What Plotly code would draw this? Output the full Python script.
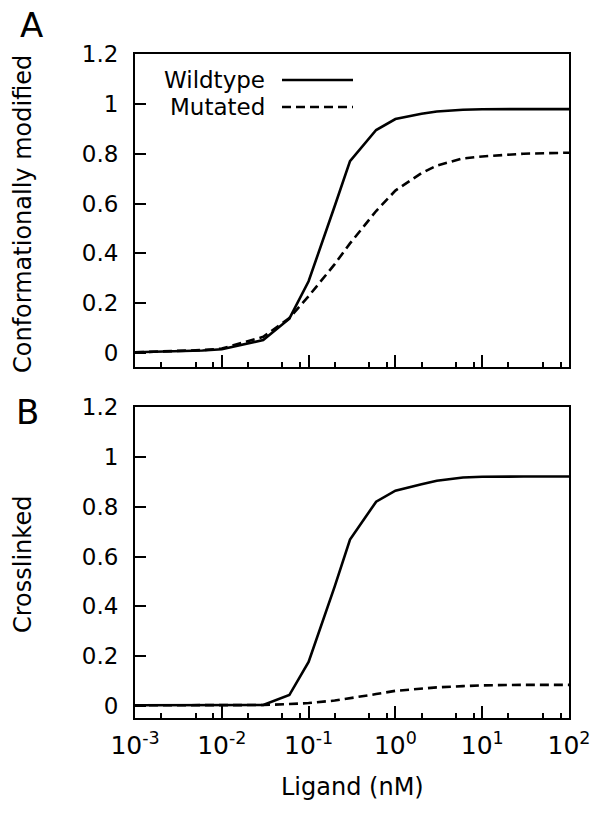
import plotly.graph_objects as go

# ---- data ----
ligand_nM = [0.001, 0.003, 0.006, 0.01, 0.03, 0.06, 0.1, 0.2, 0.3, 0.6, 1, 2, 3, 6, 10, 30, 100]
conf_wildtype = [0.003, 0.006, 0.010, 0.015, 0.052, 0.138, 0.288, 0.590, 0.770, 0.895, 0.939, 0.960, 0.969, 0.976, 0.978, 0.979, 0.979]
conf_mutated = [0.003, 0.007, 0.012, 0.018, 0.065, 0.140, 0.228, 0.357, 0.440, 0.570, 0.652, 0.722, 0.752, 0.781, 0.789, 0.800, 0.804]
cross_wildtype = [0.003, 0.003, 0.003, 0.003, 0.004, 0.044, 0.177, 0.480, 0.668, 0.820, 0.864, 0.890, 0.904, 0.917, 0.920, 0.921, 0.921]
cross_mutated = [0.003, 0.003, 0.003, 0.003, 0.004, 0.008, 0.012, 0.022, 0.031, 0.048, 0.061, 0.070, 0.075, 0.080, 0.083, 0.085, 0.085]

x_tickvals = [1e-3, 1e-2, 1e-1, 1e0, 1e1, 1e2]
x_ticktext = ["10<sup>-3</sup>", "10<sup>-2</sup>", "10<sup>-1</sup>", "10<sup>0</sup>", "10<sup>1</sup>", "10<sup>2</sup>"]
x_minor = [m * d for d in [1e-3, 1e-2, 1e-1, 1e0, 1e1] for m in (2, 5, 8)]
y_tickvals = [0, 0.2, 0.4, 0.6, 0.8, 1.0, 1.2]
y_ticktext = ["0", "0.2", "0.4", "0.6", "0.8", "1", "1.2"]

FONT = "DejaVu Sans"
LW = 2.6
DASH = "9px,5px"

fig = go.Figure()
fig.add_trace(go.Scatter(x=ligand_nM, y=conf_wildtype, mode="lines", line=dict(color="black", width=LW),
                         xaxis="x", yaxis="y", showlegend=False))
fig.add_trace(go.Scatter(x=ligand_nM, y=conf_mutated, mode="lines", line=dict(color="black", width=LW, dash=DASH),
                         xaxis="x", yaxis="y", showlegend=False))
fig.add_trace(go.Scatter(x=ligand_nM, y=cross_wildtype, mode="lines", line=dict(color="black", width=LW),
                         xaxis="x2", yaxis="y2", showlegend=False))
fig.add_trace(go.Scatter(x=ligand_nM, y=cross_mutated, mode="lines", line=dict(color="black", width=LW, dash=DASH),
                         xaxis="x2", yaxis="y2", showlegend=False))

def xaxis(show_labels, anchor):
    return dict(
        type="log", range=[-3, 2], anchor=anchor,
        tickmode="array", tickvals=x_tickvals, ticktext=x_ticktext,
        showticklabels=show_labels,
        ticks="inside", ticklen=12, tickwidth=1.5, tickcolor="black",
        minor=dict(tickmode="array", tickvals=x_minor, ticks="inside", ticklen=5, tickwidth=1.5, tickcolor="black"),
        showline=True, linecolor="black", linewidth=2, mirror=True,
        showgrid=False, zeroline=False,
        tickfont=dict(family=FONT, size=25, color="black"),
        ticklabelstandoff=4,
    )

def yaxis(domain, rng, anchor):
    return dict(
        domain=domain, range=rng, anchor=anchor,
        tickmode="array", tickvals=y_tickvals, ticktext=y_ticktext,
        ticks="inside", ticklen=11, tickwidth=1.5, tickcolor="black",
        showline=True, linecolor="black", linewidth=2, mirror=True,
        showgrid=False, zeroline=False,
        tickfont=dict(family=FONT, size=23, color="black"),
        ticklabelstandoff=10,
    )

fig.update_layout(
    width=602, height=814,
    margin=dict(l=135, r=33, t=54, b=96),
    paper_bgcolor="white", plot_bgcolor="white",
    font=dict(family=FONT, color="black"),
    xaxis=xaxis(False, "y"),
    yaxis=yaxis([0.5286, 1.0], [-0.056, 1.2], "x"),
    xaxis2=xaxis(True, "y2"),
    yaxis2=yaxis([0.0, 0.4684], [-0.048, 1.2], "x2"),
    showlegend=False,
)

annotations = [
    dict(text="A", x=(31 - 135) / 434, y=(718 - 25) / 664, xref="paper", yref="paper",
         showarrow=False, font=dict(family=FONT, size=34), xanchor="center", yanchor="middle"),
    dict(text="B", x=(27 - 135) / 434, y=(718 - 412) / 664, xref="paper", yref="paper",
         showarrow=False, font=dict(family=FONT, size=34), xanchor="center", yanchor="middle"),
    dict(text="Conformationally modified", x=(23 - 135) / 434, y=(718 - 214) / 664, xref="paper", yref="paper",
         showarrow=False, textangle=-90, font=dict(family=FONT, size=24), xanchor="center", yanchor="middle"),
    dict(text="Crosslinked", x=(23 - 135) / 434, y=(718 - 565) / 664, xref="paper", yref="paper",
         showarrow=False, textangle=-90, font=dict(family=FONT, size=24), xanchor="center", yanchor="middle"),
    dict(text="Ligand (nM)", x=(352 - 135) / 434, y=(718 - 787) / 664, xref="paper", yref="paper",
         showarrow=False, font=dict(family=FONT, size=24), xanchor="center", yanchor="middle"),
    dict(text="Wildtype", x=(267 - 135) / 434, y=(367 - 80) / 313, xref="x domain", yref="y domain",
         showarrow=False, font=dict(family=FONT, size=23), xanchor="right", yanchor="middle"),
    dict(text="Mutated", x=(267 - 135) / 434, y=(367 - 107) / 313, xref="x domain", yref="y domain",
         showarrow=False, font=dict(family=FONT, size=23), xanchor="right", yanchor="middle"),
]
fig.update_layout(annotations=annotations)

fig.add_shape(type="line", xref="x domain", yref="y domain",
              x0=(282 - 135) / 434, x1=(353 - 135) / 434, y0=(367 - 80) / 313, y1=(367 - 80) / 313,
              line=dict(color="black", width=LW))
fig.add_shape(type="line", xref="x domain", yref="y domain",
              x0=(282 - 135) / 434, x1=(353 - 135) / 434, y0=(367 - 107) / 313, y1=(367 - 107) / 313,
              line=dict(color="black", width=LW, dash=DASH))

fig.write_html("out.html", config={"displayModeBar": False},
               post_script="document.body.style.margin='0px';")
